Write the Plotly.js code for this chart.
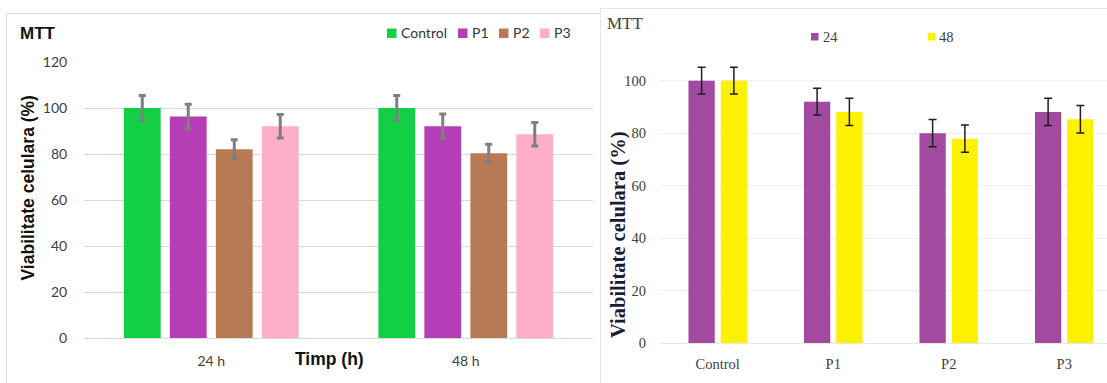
<!DOCTYPE html>
<html>
<head>
<meta charset="utf-8">
<script src="https://cdn.plot.ly/plotly-3.0.1.min.js"></script>
<style>
  html, body { margin: 0; padding: 0; background: #ffffff; }
  #wrap { position: relative; width: 1107px; height: 383px; overflow: hidden; background: #fff; }
  #left { position: absolute; left: 0; top: 0; width: 600px; height: 383px; }
  #right { position: absolute; left: 600px; top: 0; width: 507px; height: 383px; }
  .frame { position: absolute; background: #dcdcdc; }
</style>
</head>
<body>
<div id="wrap">
  <div id="left"></div>
  <div id="right"></div>
  <div class="frame" style="left:6px; top:13px; width:594px; height:1px;"></div>
  <div class="frame" style="left:6px; top:13px; width:1px; height:370px;"></div>
  <div class="frame" style="left:600px; top:8px; width:507px; height:1px; background:#e6e6e6;"></div>
  <div class="frame" style="left:600px; top:8px; width:1px; height:375px; background:#e6e6e6;"></div>
</div>
<script>
// ---------------- DATA: left chart ----------------
const leftCategories = ['24 h', '48 h'];
const leftSeries = ['Control', 'P1', 'P2', 'P3'];
const leftControl = [100, 100];
const leftP1 = [96.3, 92.1];
const leftP2 = [82.1, 80.3];
const leftP3 = [92.1, 88.6];
const leftControlErr = [5.4, 5.4];
const leftP1Err = [5.3, 5.3];
const leftP2Err = [4.1, 3.9];
const leftP3Err = [5.1, 5.1];
const leftYTicks = [0, 20, 40, 60, 80, 100, 120];

// ---------------- DATA: right chart ----------------
const rightCategories = ['Control', 'P1', 'P2', 'P3'];
const rightSeries = ['24', '48'];
const right24 = [100, 92, 80, 88.1];
const right48 = [100, 88.1, 77.9, 85.3];
const right24Err = [5.1, 5.1, 5.2, 5.2];
const right48Err = [5.1, 5.2, 5.2, 5.2];
const rightYTicks = [0, 20, 40, 60, 80, 100];

// ---------------- STYLE ----------------
const leftColors = ['#13cf45', '#b53db6', '#b77a55', '#fdaec8'];
const rightColors = ['#a14aa0', '#fff200'];
const sans = 'Lato, "Open Sans", sans-serif';
const arial = '"Liberation Sans", Arial, sans-serif';
const serif = '"Liberation Serif", "DejaVu Serif", serif';

// ---------------- LEFT CHART ----------------
(function () {
  const W = 600, H = 383, m = {l: 84, r: 7, t: 62, b: 45};
  const pw = W - m.l - m.r, ph = H - m.t - m.b;
  const px = x => (x - m.l) / pw;
  const py = y => (m.t + ph - y) / ph;

  const vals = [leftControl, leftP1, leftP2, leftP3];
  const errs = [leftControlErr, leftP1Err, leftP2Err, leftP3Err];
  const traces = leftSeries.map((name, i) => ({
    type: 'bar', name: name, x: leftCategories, y: vals[i],
    marker: {color: leftColors[i], line: {width: 0}},
    error_y: {type: 'data', array: errs[i], visible: true, color: '#7f7f7f', thickness: 3, width: 3.5},
    showlegend: false, hoverinfo: 'none'
  }));

  // legend (built from series names/colours)
  const legSwatchX = [387, 458, 499, 540];
  const shapes = [], annotations = [];
  leftSeries.forEach((name, i) => {
    shapes.push({type: 'rect', xref: 'paper', yref: 'paper',
      x0: px(legSwatchX[i]), x1: px(legSwatchX[i] + 9.5), y0: py(38), y1: py(28.5),
      fillcolor: leftColors[i], line: {width: 0}});
    annotations.push({xref: 'paper', yref: 'paper', x: px(legSwatchX[i] + 11.5), y: py(33),
      xanchor: 'left', yanchor: 'middle', showarrow: false, text: name,
      font: {family: sans, size: 14, color: '#333333'}});
  });
  annotations.push({xref: 'paper', yref: 'paper', x: px(27), y: py(188.5), textangle: -90,
    xanchor: 'center', yanchor: 'middle', showarrow: false, text: '<b>Viabilitate celulara (%)</b>',
    font: {family: arial, size: 17.5, color: '#111111'}});
  annotations.push({xref: 'paper', yref: 'paper', x: px(329), y: py(359),
    xanchor: 'center', yanchor: 'middle', showarrow: false, text: '<b>Timp (h)</b>',
    font: {family: arial, size: 17.5, color: '#111111'}});

  const layout = {
    width: W, height: H, margin: m,
    paper_bgcolor: 'rgba(0,0,0,0)', plot_bgcolor: 'rgba(0,0,0,0)',
    title: {text: '<b>MTT</b>', x: 20 / W, xref: 'container', xanchor: 'left',
      y: 1 - 33 / H, yref: 'container', yanchor: 'middle',
      font: {family: arial, size: 17, color: '#111111'}},
    barmode: 'group', bargap: 0.277, bargroupgap: 0.2,
    showlegend: false,
    xaxis: {type: 'category', showgrid: false, showline: false, zeroline: false,
      ticks: 'outside', ticklen: 10, tickcolor: 'rgba(0,0,0,0)',
      tickfont: {family: sans, size: 14, color: '#404040'}},
    yaxis: {range: [0, 120], tickvals: leftYTicks, showgrid: true, gridcolor: '#d9d9d9', gridwidth: 1,
      zeroline: true, zerolinecolor: '#d9d9d9', zerolinewidth: 1, showline: false,
      ticks: 'outside', ticklen: 13, tickcolor: 'rgba(0,0,0,0)',
      tickfont: {family: sans, size: 14, color: '#404040'}},
    shapes: shapes, annotations: annotations
  };
  Plotly.newPlot('left', traces, layout, {displayModeBar: false, staticPlot: true});
})();

// ---------------- RIGHT CHART ----------------
(function () {
  const W = 507, H = 383, m = {l: 60, r: 0, t: 50, b: 40};
  const pw = W - m.l - m.r, ph = H - m.t - m.b;
  const px = x => (x - m.l) / pw;
  const py = y => (m.t + ph - y) / ph;
  const unit = 2.623; // px per % (for range)

  const vals = [right24, right48];
  const errs = [right24Err, right48Err];
  const traces = rightSeries.map((name, i) => ({
    type: 'bar', name: name, x: rightCategories, y: vals[i],
    marker: {color: rightColors[i], line: {width: 0}},
    error_y: {type: 'data', array: errs[i], visible: true, color: '#1e1e1e', thickness: 1.5, width: 4},
    showlegend: false, hoverinfo: 'none'
  }));

  const legSwatchX = [211, 327.7];
  const shapes = [], annotations = [];
  rightSeries.forEach((name, i) => {
    shapes.push({type: 'rect', xref: 'paper', yref: 'paper',
      x0: px(legSwatchX[i]), x1: px(legSwatchX[i] + 7.5), y0: py(40.5), y1: py(33),
      fillcolor: rightColors[i], line: {width: 0}});
    annotations.push({xref: 'paper', yref: 'paper', x: px(legSwatchX[i] + 9.5), y: py(37),
      xanchor: 'left', yanchor: 'middle', showarrow: false, text: name,
      font: {family: serif, size: 14.5, color: '#404040'}});
  });
  annotations.push({xref: 'paper', yref: 'paper', x: px(18), y: py(235), textangle: -90,
    xanchor: 'center', yanchor: 'middle', showarrow: false, text: '<b>Viabilitate celulara (%)</b>',
    font: {family: serif, size: 20.5, color: '#1a1a3a'}});

  const catW = 115.5;
  const layout = {
    width: W, height: H, margin: m,
    paper_bgcolor: 'rgba(0,0,0,0)', plot_bgcolor: 'rgba(0,0,0,0)',
    title: {text: 'MTT', x: 7 / W, xref: 'container', xanchor: 'left',
      y: 1 - 23 / H, yref: 'container', yanchor: 'middle',
      font: {family: serif, size: 17, color: '#404040'}},
    barmode: 'group', bargap: 0.441, bargroupgap: 0.186,
    showlegend: false,
    xaxis: {type: 'category', range: [-0.5, -0.5 + pw / catW], showgrid: false, showline: false, zeroline: false,
      ticks: 'outside', ticklen: 8, tickcolor: 'rgba(0,0,0,0)',
      tickfont: {family: serif, size: 14.5, color: '#404040'}},
    yaxis: {range: [0, ph / unit], tickvals: rightYTicks, showgrid: true, gridcolor: '#efefef', gridwidth: 1,
      zeroline: true, zerolinecolor: '#e8e8e8', zerolinewidth: 1, showline: false,
      ticks: 'outside', ticklen: 10, tickcolor: 'rgba(0,0,0,0)',
      tickfont: {family: serif, size: 14.5, color: '#404040'}},
    shapes: shapes, annotations: annotations
  };
  Plotly.newPlot('right', traces, layout, {displayModeBar: false, staticPlot: true});
})();
</script>
</body>
</html>
